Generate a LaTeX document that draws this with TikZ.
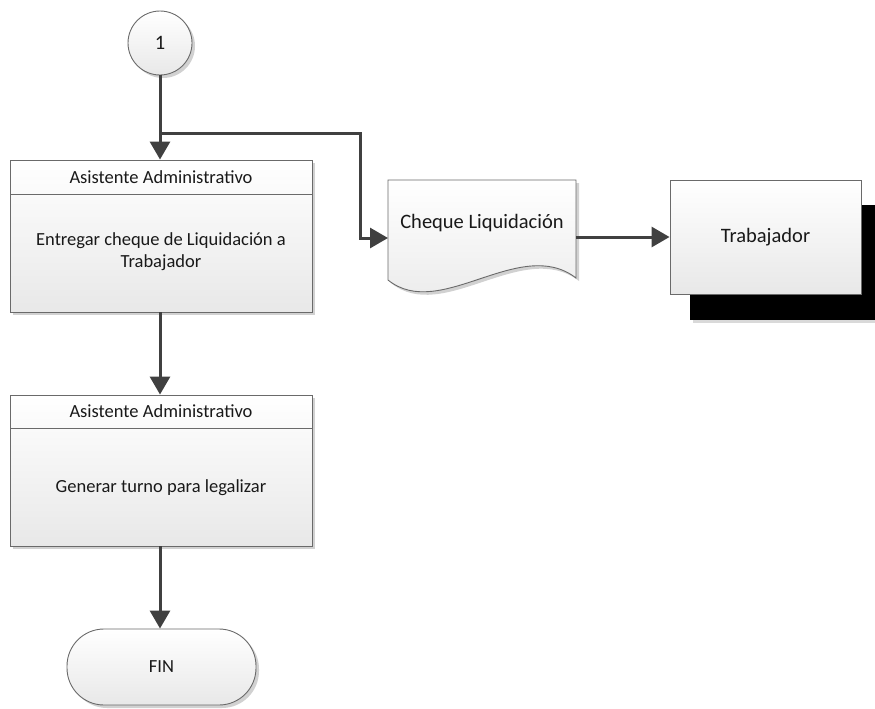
\documentclass[tikz,border=0pt]{standalone}
\usepackage{fontspec}
\setmainfont{Carlito}
\usetikzlibrary{arrows.meta,shadows}
\definecolor{edge}{HTML}{6A6A6A}
\definecolor{flowc}{HTML}{404040}
\tikzset{
  x=1pt,y=-1pt,
  shape fill/.style={top color=white,bottom color=black!9,draw=edge,line width=0.9pt},
  soft shadow/.style={drop shadow={shadow xshift=3pt,shadow yshift=-3pt,fill=black!18,opacity=1}},
  taskbox/.style={shape fill,soft shadow,rectangle,minimum width=302pt,inner sep=0pt},
  flow/.style={draw=flowc,line width=3pt,-{Triangle[length=18pt,width=20pt]}},
  plainline/.style={draw=flowc,line width=3pt},
  txt/.style={font=\fontsize{18.5}{22}\selectfont,align=center,text=black!90},
  bigtxt/.style={font=\fontsize{20.5}{24}\selectfont,align=center,text=black!90},
}
\begin{document}
\begin{tikzpicture}
\useasboundingbox (0,0) rectangle (875,709);

% connector off-page reference
\node[shape fill,soft shadow,circle,minimum size=64pt,inner sep=0pt,bigtxt] (start) at (160,43) {1};

% first task
\node[taskbox,minimum height=152pt] (box1) at (161,236) {};
\draw[edge,line width=0.9pt] (10,194) coordinate (h1l) -- (312,194) coordinate (h1r);
\node[txt] (box1head) at (161,177) {Asistente Administrativo};
\node[txt] (box1body) at (161,252) {Entregar cheque de Liquidación a\\Trabajador};

% second task
\node[taskbox,minimum height=151pt] (box2) at (161,470.5) {};
\draw[edge,line width=0.9pt] (10,428) coordinate (h2l) -- (312,428) coordinate (h2r);
\node[txt] (box2head) at (161,411) {Asistente Administrativo};
\node[txt] (box2body) at (161,488) {Generar turno para legalizar};

% terminator
\node[shape fill,soft shadow,rectangle,rounded corners=37pt,minimum width=189pt,minimum height=76pt,inner sep=0pt,txt] (fin) at (161.5,667) {FIN};

% document shape
\fill[black!18] (391,183) -- (579,183) -- (579,281)
  .. controls (523,238) and (443,325) .. (391,283) -- cycle;
\path[shape fill] (388,180) -- (576,180) -- (576,278)
  .. controls (520,235) and (440,322) .. (388,280) -- cycle;
\node[minimum width=188pt,minimum height=114pt,inner sep=0pt] (cheque) at (482,237) {};
\node[bigtxt] (chequetxt) at (482,223) {Cheque Liquidación};

% external entity with heavy shadow
\fill[black!15] (693,208) rectangle (875,323);
\fill[black] (690,205) rectangle (875,320);
\node[shape fill,rectangle,minimum width=191pt,minimum height=114pt,inner sep=0pt,bigtxt] (trab) at (765.5,237) {Trabajador};

% connectors
\coordinate (split) at (160,133);
\coordinate (turn1) at (360,133);
\coordinate (turn2) at (360,238);
\coordinate (chqin) at (388,238);
\draw[plainline] (start.south) -- (split);
\draw[flow] (split) -- (box1.north -| split);
\draw[flow] (split) -- (turn1) -- (turn2) -- (chqin);
\draw[flow] (box1.south -| split) -- (box2.north -| split);
\draw[flow] (box2.south -| split) -- (fin.north -| split);
\draw[flow] (cheque.east) -- (trab.west);
\end{tikzpicture}
\end{document}
